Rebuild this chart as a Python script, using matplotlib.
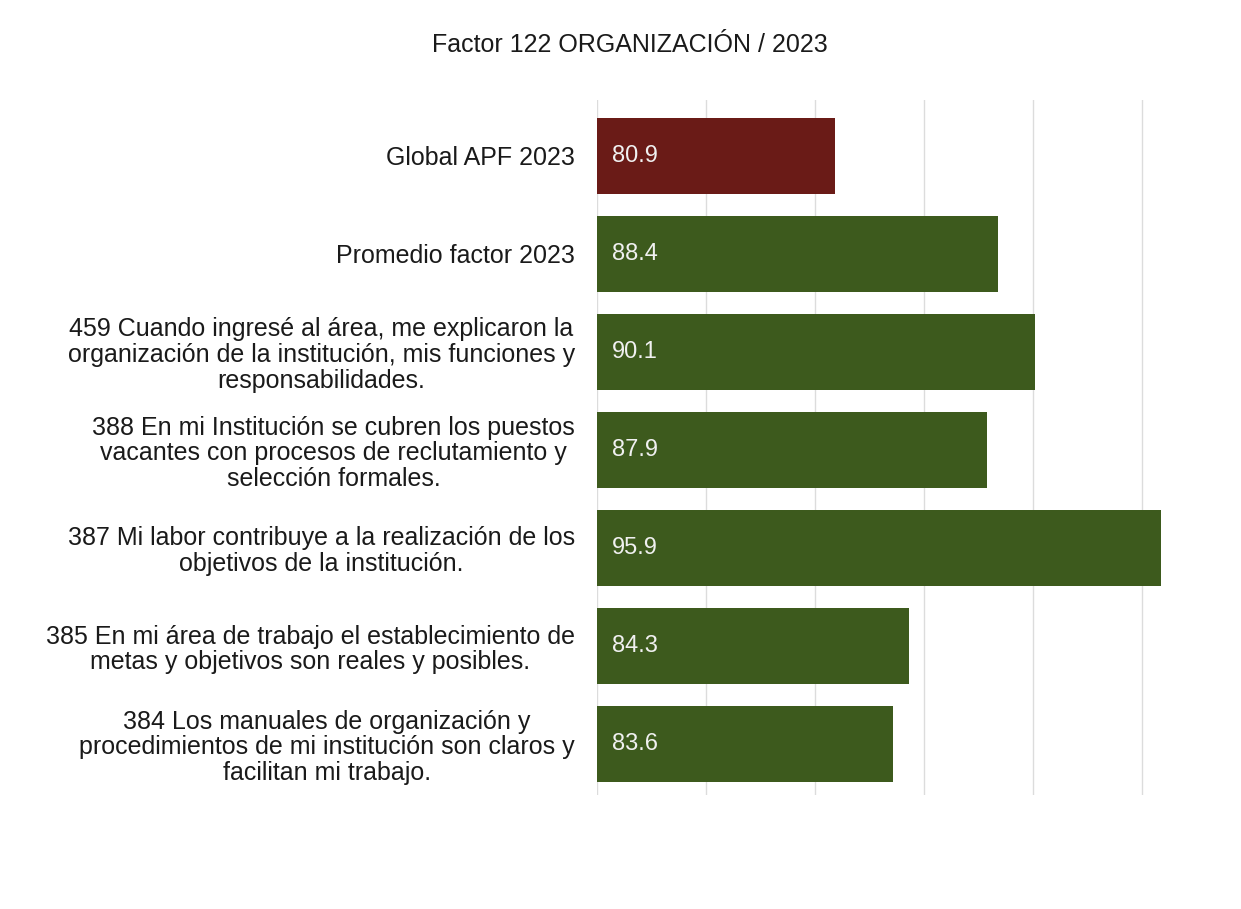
import matplotlib.pyplot as plt

plt.rcParams['font.family'] = ['Liberation Sans', 'DejaVu Sans']

# reactivos del factor, de arriba hacia abajo
labels = [
    "Global APF 2023",
    "Promedio factor 2023",
    "459 Cuando ingresé al área, me explicaron la\norganización de la institución, mis funciones y\nresponsabilidades.",
    "388 En mi Institución se cubren los puestos\nvacantes con procesos de reclutamiento y\nselección formales.",
    "387 Mi labor contribuye a la realización de los\nobjetivos de la institución.",
    "385 En mi área de trabajo el establecimiento de\nmetas y objetivos son reales y posibles.",
    "384 Los manuales de organización y\nprocedimientos de mi institución son claros y\nfacilitan mi trabajo.",
]
values = [80.9, 88.4, 90.1, 87.9, 95.9, 84.3, 83.6]
colors = ["#6a1b17"] + ["#3d5a1d"] * 6

fig = plt.figure(figsize=(12.41, 9.09), dpi=100)
ax = fig.add_axes([597 / 1241, 1 - 795 / 909, 1 - 597 / 1241, 695 / 909])

pos = range(len(values))
ax.barh(pos, values, height=0.78, color=colors, left=0, zorder=2)
ax.set_xlim(70, 99.55)
ax.set_ylim(6.52, -0.57)

ax.set_xticks([70, 75, 80, 85, 90, 95])
ax.xaxis.grid(True, color="#dcdcdc", linewidth=1.0, zorder=0)
ax.tick_params(axis="x", length=0, labelbottom=False)
ax.tick_params(axis="y", length=0, pad=16)
ax.set_yticks(list(pos))
ax.set_yticklabels(labels, fontsize=18, color="#1a1a1a", multialignment="center",
                   linespacing=1.1)
for s in ax.spines.values():
    s.set_visible(False)

# valores dentro de cada barra
for i, v in enumerate(values):
    ax.text(70.68, i, f"{v:.1f}", va="center", ha="left", color="#f0f0f0", fontsize=17, zorder=3)

fig.text(630 / 1241, 1 - 45 / 909, "Factor 122 ORGANIZACIÓN / 2023",
         ha="center", va="center", fontsize=18, color="#1a1a1a")

fig.savefig("out.png", dpi=100, facecolor="white")
